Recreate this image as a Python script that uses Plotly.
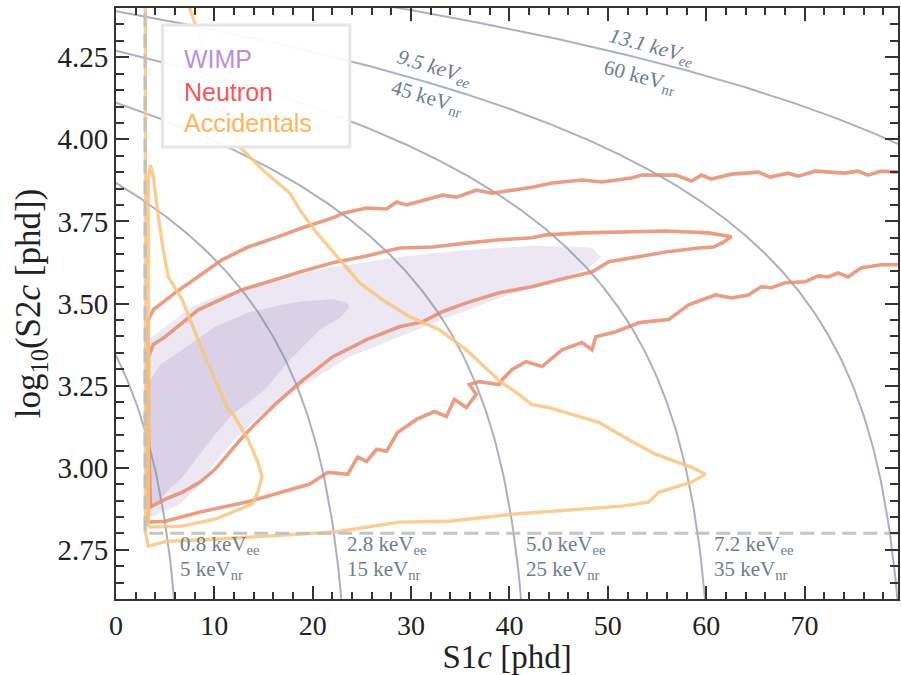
import numpy as np
import plotly.graph_objects as go

# ---------------- data ----------------
# WIMP signal regions (S1c [phd], log10 S2c)
wimp_2s_x = [3.29, 5.02, 7.75, 10.07, 13.42, 16.87, 22.24, 23.76, 28.82, 35.61, 42.30, 47.37, 48.38, 49.29,
             48.07, 44.02, 38.96, 33.89, 28.82, 23.76, 19.50, 16.87, 14.13, 11.80, 10.07, 8.36, 6.53, 4.71, 3.50, 3.19, 3.19]
wimp_2s_y = [3.390, 3.429, 3.490, 3.520, 3.551, 3.578, 3.612, 3.618, 3.642, 3.663, 3.675, 3.672, 3.669, 3.642,
             3.608, 3.563, 3.517, 3.460, 3.399, 3.338, 3.259, 3.208, 3.147, 3.077, 3.016, 2.943, 2.889, 2.865, 2.850, 2.856, 3.390]
wimp_1s_x = [3.29, 4.51, 6.74, 10.07, 13.42, 16.87, 18.69, 22.04, 23.45, 23.76,
             23.25, 22.75, 20.72, 17.68, 15.35, 13.63, 11.80, 10.07, 8.36, 6.74, 5.22, 4.31, 3.50, 3.19, 3.19]
wimp_1s_y = [3.259, 3.314, 3.359, 3.429, 3.472, 3.496, 3.505, 3.514, 3.502, 3.490,
             3.472, 3.457, 3.420, 3.329, 3.244, 3.202, 3.162, 3.101, 3.035, 2.971, 2.928, 2.895, 2.880, 2.889, 3.259]

# Neutron contours
neutron_outer_x = [79.48, 77.76, 76.44, 75.43, 74.11, 71.07, 69.35, 68.34, 66.51, 65.30, 62.56, 60.54, 59.52, 58.51,
                   56.89, 53.44, 52.43, 49.39, 47.37, 44.33, 42.30, 38.25, 36.63, 34.60, 33.18, 29.53, 28.52, 27.51,
                   25.48, 23.05, 22.24, 18.90, 16.16, 13.42, 10.79, 8.36, 6.03, 3.80, 3.29, 3.19, 3.29,
                   5.02, 8.56, 13.63, 16.97, 19.71, 21.53, 23.56, 24.57, 25.48, 26.49, 27.51, 28.62, 30.55, 32.37,
                   33.59, 34.40, 35.61, 36.63, 35.92, 36.93, 38.96, 39.26, 40.27, 41.69, 43.31, 45.34, 47.37, 48.38,
                   48.78, 50.81, 53.14, 53.85, 56.18, 58.21, 60.95, 62.56, 64.28, 65.60, 66.62, 68.03, 70.06, 71.38,
                   72.39, 73.40, 74.42, 75.73, 77.76, 79.48]
neutron_outer_y = [3.900, 3.903, 3.891, 3.903, 3.897, 3.903, 3.888, 3.897, 3.885, 3.900, 3.894, 3.879, 3.891, 3.873,
                   3.891, 3.891, 3.882, 3.870, 3.876, 3.867, 3.854, 3.836, 3.845, 3.824, 3.830, 3.800, 3.809, 3.788,
                   3.791, 3.775, 3.763, 3.730, 3.700, 3.672, 3.633, 3.581, 3.533, 3.481, 3.451, 3.208, 2.834,
                   2.837, 2.865, 2.898, 2.928, 2.950, 2.986, 2.980, 3.032, 3.019, 3.056, 3.050, 3.107, 3.147, 3.171,
                   3.156, 3.208, 3.183, 3.223, 3.253, 3.262, 3.253, 3.268, 3.299, 3.323, 3.308, 3.359, 3.381, 3.359,
                   3.399, 3.414, 3.441, 3.444, 3.451, 3.496, 3.526, 3.517, 3.526, 3.551, 3.548, 3.563, 3.566, 3.584,
                   3.581, 3.593, 3.581, 3.608, 3.618, 3.618]
neutron_inner_x = [3.29, 3.80, 5.02, 8.36, 12.82, 16.87, 18.69, 22.04, 25.48, 28.82, 32.17, 35.61, 38.96, 42.30,
                   43.72, 47.37, 53.44, 55.88, 60.23, 62.56,
                   61.76, 60.74, 59.22, 55.88, 54.15, 51.82, 50.10, 48.38, 45.74, 42.30, 38.96, 35.61, 33.18, 31.16,
                   28.82, 25.48, 22.04, 18.69, 16.16, 14.13, 12.92, 11.40, 10.07, 8.56, 6.74, 5.02, 3.50, 3.29, 3.29]
neutron_inner_y = [3.338, 3.375, 3.399, 3.481, 3.542, 3.581, 3.596, 3.624, 3.645, 3.669, 3.672, 3.684, 3.694, 3.700,
                   3.709, 3.715, 3.721, 3.721, 3.715, 3.703,
                   3.687, 3.672, 3.669, 3.657, 3.648, 3.636, 3.627, 3.596, 3.578, 3.551, 3.533, 3.502, 3.475, 3.444,
                   3.429, 3.390, 3.338, 3.259, 3.192, 3.132, 3.095, 3.041, 2.995, 2.956, 2.925, 2.904, 2.880, 3.117, 3.338]

# Accidentals contours
acc_outer_x = [2.99, 2.99, 3.29, 5.22, 10.07, 15.35, 22.24, 28.82, 33.89, 40.27, 47.37, 51.42, 54.15, 55.17, 58.51,
               59.93, 58.51, 54.86, 52.43, 49.09, 44.02, 42.30, 40.68, 38.96, 35.61, 32.88, 29.84, 27.10, 24.77,
               22.75, 20.42, 18.69, 17.68, 14.94, 12.61, 9.88, 7.55, 6.89]
acc_outer_y = [4.45, 2.804, 2.761, 2.776, 2.782, 2.792, 2.804, 2.834, 2.837, 2.858, 2.874, 2.883, 2.895, 2.925, 2.956,
               2.980, 3.001, 3.041, 3.080, 3.138, 3.183, 3.192, 3.229, 3.265, 3.359, 3.420, 3.460, 3.511, 3.563,
               3.633, 3.715, 3.785, 3.836, 3.906, 3.976, 4.188, 4.398, 4.453]
acc_inner_x = [3.29, 6.74, 10.07, 13.83, 14.44, 14.84, 14.44, 13.42, 11.80, 11.40, 10.07, 8.76, 6.74, 5.32, 4.81,
               4.31, 3.80, 3.50, 3.29, 3.29]
acc_inner_y = [2.819, 2.822, 2.843, 2.889, 2.928, 2.974, 3.016, 3.086, 3.168, 3.177, 3.268, 3.359, 3.511, 3.581, 3.663,
               3.763, 3.885, 3.921, 3.880, 2.819]

# Iso-energy lines
energy_ee = [0.85, 2.85, 5.0, 7.2, 9.5, 13.1]          # keVee
g2_over_W = 2584.0                                    # phd per keVee in S2
g2_over_g1 = 304.0                                    # S2/S1 quanta conversion ratio
bottom_labels_ee = ["0.8", "2.8", "5.0", "7.2"]
bottom_labels_nr = ["5", "15", "25", "35"]
bottom_label_x = [6.33, 23.25, 41.49, 60.54]
top_labels_ee = ["9.5", "13.1"]
top_labels_nr = ["45", "60"]
top_label_ee_pos = [(32.4, 4.216), (54.46, 4.280)]
top_label_nr_pos = [(31.66, 4.125), (53.24, 4.189)]
top_label_angle = [16.5, 15.0]

s1_threshold = 2.95
s2_threshold = 2.80

# ---------------- style ----------------
SERIF = "Liberation Serif"
SANS = "Liberation Sans"
C_W2 = "rgb(236,231,242)"
C_W1 = "rgb(218,209,231)"
C_N = "rgba(228,140,112,0.85)"
C_A = "rgba(248,196,128,0.85)"
C_E = "rgba(125,135,155,0.65)"
C_LBL = "#6d7d8f"

fig = go.Figure()

fig.add_trace(go.Scatter(x=wimp_2s_x, y=wimp_2s_y, fill="toself", fillcolor=C_W2, mode="none", hoverinfo="skip"))
fig.add_trace(go.Scatter(x=wimp_1s_x, y=wimp_1s_y, fill="toself", fillcolor=C_W1, mode="none", hoverinfo="skip"))

for E in energy_ee:
    s1 = np.linspace(0, 80, 600)
    s2 = g2_over_W * E - g2_over_g1 * s1
    m = s2 > 10 ** 2.5
    fig.add_trace(go.Scatter(x=s1[m], y=np.log10(s2[m]), mode="lines",
                             line=dict(color=C_E, width=2), hoverinfo="skip"))

fig.add_trace(go.Scatter(x=neutron_outer_x, y=neutron_outer_y, mode="lines",
                         line=dict(color=C_N, width=3.6)))
fig.add_trace(go.Scatter(x=neutron_inner_x, y=neutron_inner_y, mode="lines",
                         line=dict(color=C_N, width=3.6)))
fig.add_trace(go.Scatter(x=acc_outer_x, y=acc_outer_y, mode="lines",
                         line=dict(color=C_A, width=3.4)))
fig.add_trace(go.Scatter(x=acc_inner_x, y=acc_inner_y, mode="lines",
                         line=dict(color=C_A, width=3.4)))

# thresholds
fig.add_trace(go.Scatter(x=[s1_threshold, s1_threshold, 80], y=[4.45, s2_threshold, s2_threshold], mode="lines",
                         line=dict(color="rgba(190,190,190,0.9)", width=3, dash="14px,7px")))

ann = []
for t_ee, t_nr, x in zip(bottom_labels_ee, bottom_labels_nr, bottom_label_x):
    ann.append(dict(x=x, y=2.764, xref="x", yref="y", xanchor="left", yanchor="middle", showarrow=False,
                    text=f"{t_ee} keV<sub>ee</sub>", font=dict(family=SERIF, size=21, color=C_LBL)))
    ann.append(dict(x=x, y=2.688, xref="x", yref="y", xanchor="left", yanchor="middle", showarrow=False,
                    text=f"{t_nr} keV<sub>nr</sub>", font=dict(family=SERIF, size=21, color=C_LBL)))
for t_ee, t_nr, p1, p2, a in zip(top_labels_ee, top_labels_nr, top_label_ee_pos, top_label_nr_pos, top_label_angle):
    ann.append(dict(x=p1[0], y=p1[1], xref="x", yref="y", xanchor="center", yanchor="middle", showarrow=False,
                    textangle=a, text=f"<i>{t_ee} keV<sub>ee</sub></i>", font=dict(family=SERIF, size=21, color=C_LBL)))
    ann.append(dict(x=p2[0], y=p2[1], xref="x", yref="y", xanchor="center", yanchor="middle", showarrow=False,
                    textangle=a, text=f"{t_nr} keV<sub>nr</sub>", font=dict(family=SERIF, size=21, color=C_LBL)))

legend_items = [("WIMP", "#b98fe0", 0.9138), ("Neutron", "#f2575d", 0.858), ("Accidentals", "#ffb45e", 0.8055)]
for name, col, yy in legend_items:
    ann.append(dict(x=0.0848, y=yy, xref="paper", yref="paper", xanchor="left", yanchor="middle", showarrow=False,
                    text=name, font=dict(family=SANS, size=25, color=col)))

shapes = [dict(type="rect", xref="paper", yref="paper", x0=0.0593, x1=0.299, y0=0.7649, y1=0.9712,
               fillcolor="rgba(255,255,255,0.92)", line=dict(color="#e6e6e6", width=3), layer="above")]

axis_common = dict(showgrid=False, zeroline=False, showline=True, linecolor="#333", linewidth=2,
                   mirror="allticks", ticks="inside", ticklen=13, tickwidth=2, tickcolor="#333")

fig.update_layout(
    width=901, height=675, plot_bgcolor="white", paper_bgcolor="white", showlegend=False,
    margin=dict(l=115.5, r=1, t=8, b=75.5),
    xaxis=dict(range=[0, 79.5], tickvals=[0, 10, 20, 30, 40, 50, 60, 70],
               tickfont=dict(family=SERIF, size=28, color="#222"),
               minor=dict(ticks="inside", dtick=2, tick0=0, ticklen=7, tickwidth=1.5, tickcolor="#333"),
               title=dict(text="S1<i>c</i> [phd]", font=dict(family=SERIF, size=33, color="#222"), standoff=4),
               **axis_common),
    yaxis=dict(range=[2.6, 4.4], tickvals=[2.75, 3.0, 3.25, 3.5, 3.75, 4.0, 4.25],
               ticktext=["2.75", "3.00", "3.25", "3.50", "3.75", "4.00", "4.25"],
               tickfont=dict(family=SERIF, size=29, color="#222"),
               minor=dict(ticks="inside", dtick=0.05, tick0=2.6, ticklen=8, tickwidth=1.5, tickcolor="#333"),
               title=dict(text="log<sub>10</sub>(S2<i>c</i> [phd])", font=dict(family=SERIF, size=35, color="#222"), standoff=6),
               **axis_common),
    annotations=ann, shapes=shapes,
)

fig.write_html("out.html")
